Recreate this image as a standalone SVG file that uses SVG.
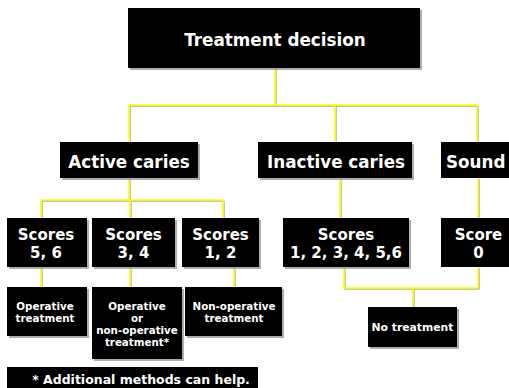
<svg xmlns="http://www.w3.org/2000/svg" width="509" height="388" viewBox="0 0 509 388">
<style>
.box{fill:#000}
.sh{fill:#8a8a8a;opacity:0.7}
.t{font-family:"DejaVu Sans","Verdana",sans-serif;font-weight:bold;fill:#fff;text-anchor:middle}
.big{font-size:16.8px}
.mid{font-size:15px}
.sm{font-size:10.3px}
.fn{font-size:12.5px}
.ln{fill:none;stroke:#ffff00;stroke-width:1.6}
.lsh{fill:none;stroke:#7a7a50;stroke-width:1.4;opacity:0.6}
</style>
<rect width="509" height="388" fill="#fff"/>
<g id="connectors">
<path class="lsh" transform="translate(1,1)" d="M275 68V105M129 105H477M129 105V142M335 105V142M477 105V142M129 178V200M41 200H223M41 200V218M130 200V218M223 200V218M340 178V218M478 178V218M41 267V287M130 267V287M234 267V287M344 267V288H478M478 267V288M413 288V307"/>
<path class="ln" d="M275 68V105M129 105H477M129 105V142M335 105V142M477 105V142M129 178V200M41 200H223M41 200V218M130 200V218M223 200V218M340 178V218M478 178V218M41 267V287M130 267V287M234 267V287M344 267V288H478M478 267V288M413 288V307"/>
</g>
<g id="treatment-decision">
<rect class="sh" x="130" y="10" width="292" height="60"/>
<rect class="box" x="128" y="8" width="292" height="60"/>
<text class="t big" x="275" y="46">Treatment decision</text>
</g>
<g id="active-caries">
<rect class="sh" x="62" y="144" width="138" height="36"/>
<rect class="box" x="60" y="142" width="138" height="36"/>
<text class="t big" x="129" y="168">Active caries</text>
</g>
<g id="inactive-caries">
<rect class="sh" x="260" y="144" width="154" height="36"/>
<rect class="box" x="258" y="142" width="154" height="36"/>
<text class="t big" x="336" y="168">Inactive caries</text>
</g>
<g id="sound">
<rect class="box" x="441" y="142" width="80" height="36"/>
<text class="t big" x="446" y="168" style="text-anchor:start">Sound</text>
</g>
<g id="scores-56">
<rect class="sh" x="9" y="220" width="80" height="49"/>
<rect class="box" x="7" y="218" width="80" height="49"/>
<text class="t mid" x="46" y="240">Scores</text>
<text class="t mid" x="46" y="258">5, 6</text>
</g>
<g id="scores-34">
<rect class="sh" x="94" y="220" width="83" height="49"/>
<rect class="box" x="92" y="218" width="83" height="49"/>
<text class="t mid" x="133.5" y="240">Scores</text>
<text class="t mid" x="133.5" y="258">3, 4</text>
</g>
<g id="scores-12">
<rect class="sh" x="184" y="220" width="77" height="49"/>
<rect class="box" x="182" y="218" width="77" height="49"/>
<text class="t mid" x="220.5" y="240">Scores</text>
<text class="t mid" x="220.5" y="258">1, 2</text>
</g>
<g id="scores-all">
<rect class="sh" x="285" y="220" width="126" height="49"/>
<rect class="box" x="283" y="218" width="126" height="49"/>
<text class="t mid" x="346" y="240">Scores</text>
<text class="t mid" x="346" y="258">1, 2, 3, 4, 5,6</text>
</g>
<g id="score-0">
<rect class="box" x="441" y="218" width="80" height="49"/>
<text class="t mid" x="478.5" y="240">Score</text>
<text class="t mid" x="478.5" y="258">0</text>
</g>
<g id="operative">
<rect class="sh" x="9" y="289" width="80" height="49"/>
<rect class="box" x="7" y="287" width="80" height="49"/>
<text class="t sm" x="45" y="310">Operative</text>
<text class="t sm" x="45" y="322">treatment</text>
</g>
<g id="operative-or-non">
<rect class="sh" x="94" y="289" width="90" height="72"/>
<rect class="box" x="92" y="287" width="90" height="72"/>
<text class="t sm" x="137" y="310">Operative</text>
<text class="t sm" x="137" y="322">or</text>
<text class="t sm" x="137" y="334">non-operative</text>
<text class="t sm" x="137" y="346">treatment*</text>
</g>
<g id="non-operative">
<rect class="sh" x="187" y="289" width="97" height="49"/>
<rect class="box" x="185" y="287" width="97" height="49"/>
<text class="t sm" x="234" y="310">Non-operative</text>
<text class="t sm" x="234" y="322">treatment</text>
</g>
<g id="no-treatment">
<rect class="sh" x="370" y="309" width="89" height="40"/>
<rect class="box" x="368" y="307" width="89" height="40"/>
<text class="t sm" x="412.5" y="331" style="font-size:10.8px">No treatment</text>
</g>
<g id="footnote">
<rect class="box" x="7" y="367" width="251" height="25"/>
<text class="t fn" x="141" y="384">* Additional methods can help.</text>
</g>
</svg>
